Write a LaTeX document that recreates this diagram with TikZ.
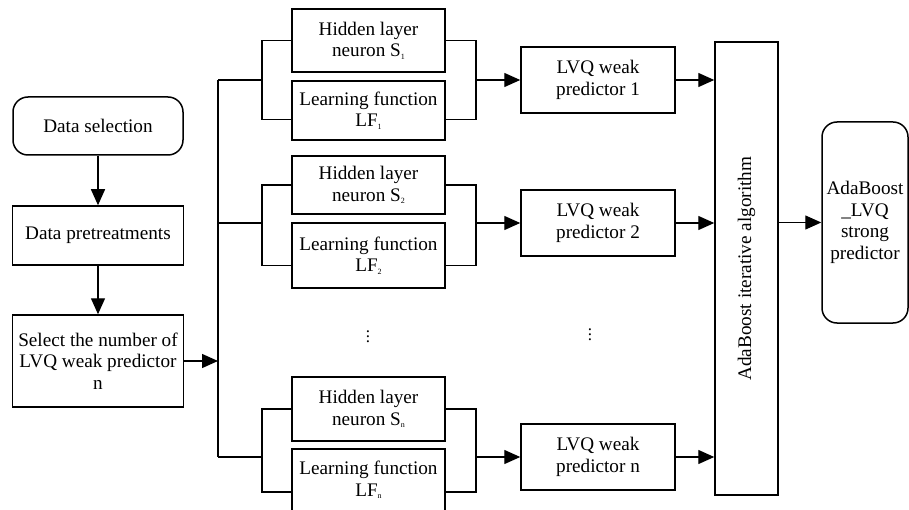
\documentclass[tikz,border=0pt]{standalone}
\usepackage{fontspec}
\setmainfont{Liberation Serif}
\usetikzlibrary{arrows.meta}
\newcommand{\lowidx}[1]{\raisebox{-2.5pt}{\fontsize{8}{8}\selectfont #1}}
\newcommand{\tallvdots}{\vbox{\baselineskip5.2pt\lineskiplimit0pt\hbox{.}\hbox{.}\hbox{.}}}
\begin{document}
\begin{tikzpicture}[x=1pt,y=-1pt]
        \tikzstyle{block}=[rectangle,draw=black,line width=1.5pt,inner sep=0pt,align=center,font=\fontsize{19.2}{21.7}\selectfont]
        \tikzstyle{roundblock}=[block,rounded corners=15pt]
        \tikzstyle{edge}=[draw,line width=1.4pt,-{Triangle[length=16pt,width=14pt]}]
        \tikzstyle{wire}=[draw,line width=1.4pt]
        \useasboundingbox (0,0) rectangle (909,510);
        % left column
        \node [roundblock,minimum width=170,minimum height=58] (dsel) at (98,126) {Data selection};
        \node [block,minimum width=171,minimum height=59] (dpre) at (98,235.5) {Data pretreatments};
        \node [block,minimum width=171,minimum height=92] (nsel) at (98,361) {Select the number of\\LVQ weak predictor\\n};
        \path[edge] (dsel) -- (dpre);
        \path[edge] (dpre) -- (nsel);
        % parameter boxes
        \begin{scope}[every node/.style={block,minimum width=153}]
           \node [minimum height=63] (hid1) at (368.5,40.5) {Hidden layer\\neuron S\lowidx{1}};
           \node [minimum height=59] (lf1) at (368.5,110.5) {Learning function\\LF\lowidx{1}};
           \node [minimum height=58] (hid2) at (368.5,185) {Hidden layer\\neuron S\lowidx{2}};
           \node [minimum height=65] (lf2) at (368.5,255.5) {Learning function\\LF\lowidx{2}};
           \node [minimum height=64] (hidn) at (368.5,409) {Hidden layer\\neuron S\lowidx{n}};
           \node [minimum height=62] (lfn) at (368.5,480) {Learning function\\LF\lowidx{n}};
        \end{scope}
        % weak predictors
        \begin{scope}[every node/.style={block,minimum width=154,minimum height=66}]
           \node (lvq1) at (598,80) {LVQ weak\\predictor 1};
           \node (lvq2) at (598,223) {LVQ weak\\predictor 2};
           \node (lvqn) at (598,457) {LVQ weak\\predictor n};
        \end{scope}
        \node [inner sep=0pt,font=\fontsize{17}{17}\selectfont] (dotsL) at (368,337) {\tallvdots};
        \node [inner sep=0pt,font=\fontsize{17}{17}\selectfont] (dotsR) at (590,335) {\tallvdots};
        \node [block,minimum width=63,minimum height=453,
               label={[rotate=90,font=\fontsize{19.2}{21.7}\selectfont]center:AdaBoost iterative algorithm}] (ada) at (746.5,268.5) {};
        \node [roundblock,minimum width=86,minimum height=201] (strong) at (865,222.5) {AdaBoost\\\_LVQ\\strong\\predictor};
        % bus and branches
        \coordinate (busT) at (218,80);
        \coordinate (busB) at (218,457);
        \coordinate (l1) at (262,80);
        \coordinate (l2) at (262,223);
        \coordinate (ln) at (262,457);
        \coordinate (r1) at (476,80);
        \coordinate (r2) at (476,223);
        \coordinate (rn) at (476,457);
        \path[edge] (nsel.east) -- (nsel.east -| busT);
        \path[wire] (busT) -- (busB);
        \path[wire] (busT) -- (l1);
        \path[wire] (busT |- l2) -- (l2);
        \path[wire] (busB) -- (ln);
        \path[wire] (hid1.west) -| (l1) |- ([yshift=-9pt]lf1.west);
        \path[wire] (hid2.west) -| (l2) |- ([yshift=-10pt]lf2.west);
        \path[wire] (hidn.west) -| (ln) |- ([yshift=-12pt]lfn.west);
        \path[wire] (hid1.east) -| (r1) |- ([yshift=-9pt]lf1.east);
        \path[wire] (hid2.east) -| (r2) |- ([yshift=-10pt]lf2.east);
        \path[wire] (hidn.east) -| (rn) |- ([yshift=-12pt]lfn.east);
        \path[edge] (r1) -- (lvq1);
        \path[edge] (r2) -- (lvq2);
        \path[edge] (rn) -- (lvqn);
        \path[edge] (lvq1.east) -- (lvq1.east -| ada.west);
        \path[edge] (lvq2.east) -- (lvq2.east -| ada.west);
        \path[edge] (lvqn.east) -- (lvqn.east -| ada.west);
        \path[edge] (ada.east |- strong.west) -- (strong.west);
\end{tikzpicture}
\end{document}
